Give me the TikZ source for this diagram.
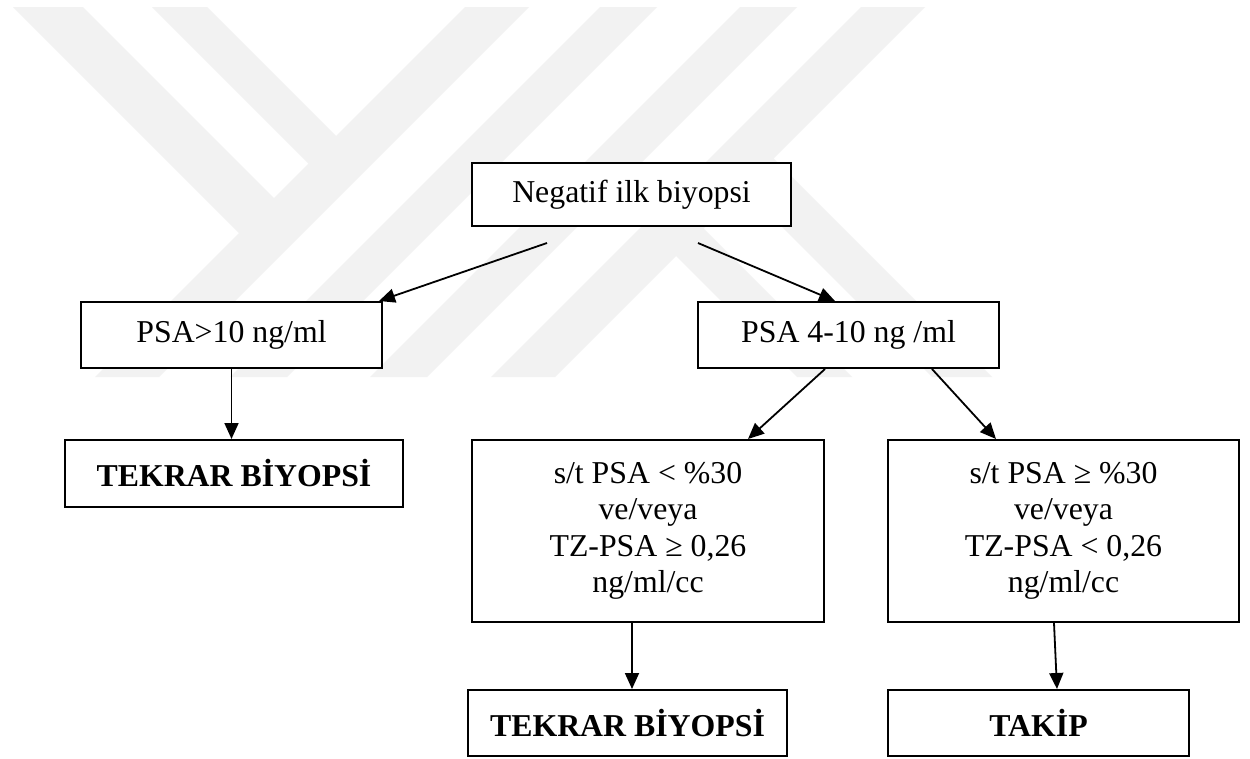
\documentclass[tikz,border=0pt]{standalone}
\usepackage{fontspec}
\setmainfont{Liberation Serif}
\usetikzlibrary{arrows.meta}
\definecolor{wm}{gray}{0.95}
\begin{document}
\begin{tikzpicture}[x=1pt,y=-1pt,
  box/.style={draw=black, line width=2pt, fill=white, inner sep=0pt, align=center,
              font=\fontsize{31.8}{36.5}\selectfont},
  boldbox/.style={box, font=\fontsize{31.8}{36.5}\selectfont\bfseries},
  conn/.style={line width=1.8pt, -{Triangle[length=16pt,width=14pt]}},
  wmband/.style={fill=wm, draw=none}]
\useasboundingbox (0,0) rectangle (1250,758);
\fill[white] (0,0) rectangle (1250,758);
% watermark
\fill[wmband] (13,7) -- (83,7) -- (290,214) -- (255,249) -- cycle;
\fill[wmband] (152,7) -- (207,7) -- (352,152) -- (324.5,179.5) -- cycle;
\fill[wmband] (465,7) -- (529,7) -- (159,377) -- (95,377) -- cycle;
\fill[wmband] (600,7) -- (657,7) -- (287,377) -- (230,377) -- cycle;
\fill[wmband] (740,7) -- (797,7) -- (427,377) -- (370,377) -- cycle;
\fill[wmband] (861,7) -- (925,7) -- (555,377) -- (491,377) -- cycle;
\fill[wmband] (660,240) -- (687.5,212.5) -- (852,377) -- (797,377) -- cycle;
\fill[wmband] (727.5,172.5) -- (757.5,142.5) -- (992,377) -- (932,377) -- cycle;
% nodes
\node[box, minimum width=319pt, minimum height=63pt] (neg) at (631.5,194.5) {Negatif ilk biyopsi};
\node[box, minimum width=301pt, minimum height=66pt] (p10) at (231.5,335) {PSA>10 ng/ml};
\node[box, minimum width=301pt, minimum height=66pt] (p410) at (848.5,335) {PSA 4-10 ng /ml};
\node[boldbox, minimum width=338pt, minimum height=67pt] (tb1) at (234,473.5) {TEKRAR BİYOPSİ};
\node[box, minimum width=352pt, minimum height=182pt] (ml) at (648,531)
  {s/t PSA < \%30\\ve/veya\\TZ-PSA ≥ 0,26\\ng/ml/cc};
\node[box, minimum width=351pt, minimum height=182pt] (mr) at (1063.5,531)
  {s/t PSA ≥ \%30\\ve/veya\\TZ-PSA < 0,26\\ng/ml/cc};
\node[boldbox, minimum width=319pt, minimum height=66pt] (tb2) at (627.5,723) {TEKRAR BİYOPSİ};
\node[boldbox, minimum width=301pt, minimum height=66pt] (tk) at (1038.5,723) {TAKİP};
% connectors
\coordinate (a1) at (547,243);
\coordinate (a2) at (698,243);
\draw[conn] (a1) -- ([xshift=-4pt]p10.north east);
\draw[conn] (a2) -- ([xshift=-13.5pt]p410.north);
\draw[conn] (p10.south) -- (p10.south |- tb1.north);
\draw[conn] ([xshift=-23.5pt]p410.south) -- ([xshift=100pt]ml.north);
\draw[conn] ([xshift=83.5pt]p410.south) -- ([xshift=-67.5pt]mr.north);
\draw[conn] ([xshift=-16pt]ml.south) -- ([xshift=-16pt]ml.south |- tb2.north);
\draw[conn] ([xshift=-9.5pt]mr.south) -- ([xshift=18.5pt]tk.north);
\end{tikzpicture}
\end{document}
